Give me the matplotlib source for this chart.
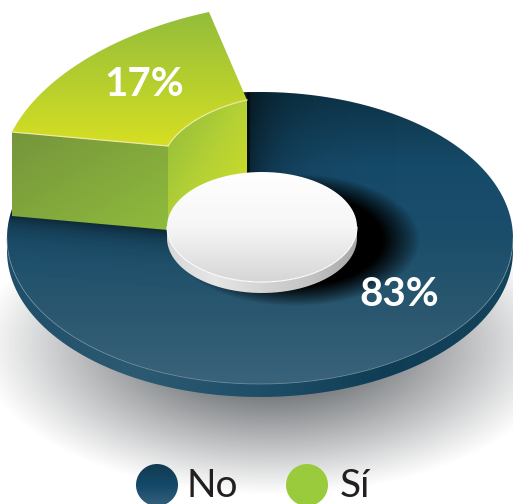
import numpy as np
import matplotlib
matplotlib.use("Agg")
import matplotlib.pyplot as plt
from matplotlib.path import Path
from matplotlib.patches import PathPatch
from matplotlib.colors import LinearSegmentedColormap

labels = ["No", "Sí"]
values = [83, 17]
legend_colors = ["#15496a", "#9acb3c"]
text_color = "#231f20"

W, H = 513, 504
fig = plt.figure(figsize=(W / 100, H / 100), dpi=100)
ax = fig.add_axes([0, 0, 1, 1])
ax.set_xlim(0, W)
ax.set_ylim(H, 0)
ax.set_autoscale_on(False)
ax.axis("off")

Y, X = np.mgrid[0:H, 0:W] + 0.5


def cmap(*cols):
    return LinearSegmentedColormap.from_list("g", list(cols))


def fill(pts, cols, direction=(0, 1), z=1):
    # polygon filled with a linear gradient along direction
    pts = np.asarray(pts)
    path = Path(np.vstack([pts, pts[:1]]))
    x0, y0 = pts.min(axis=0)
    x1, y1 = pts.max(axis=0)
    yy, xx = np.mgrid[y0:y1:200j, x0:x1:200j]
    g = (xx - x0) / max(x1 - x0, 1) * direction[0] + (yy - y0) / max(y1 - y0, 1) * direction[1]
    g = (g - g.min()) / (g.max() - g.min())
    im = ax.imshow(g, extent=(x0, x1, y1, y0), cmap=cmap(*cols), aspect="auto", zorder=z,
                   interpolation="bilinear", origin="upper")
    clip = PathPatch(path, transform=ax.transData, fc="none", ec="none")
    ax.add_patch(clip)
    im.set_clip_path(clip)
    return im


def soft(alpha, z, color=(0, 0, 0), clip_pts=None):
    # full-canvas transparent layer, for the soft shadows
    rgba = np.zeros((H, W, 4))
    rgba[..., 0], rgba[..., 1], rgba[..., 2] = color
    rgba[..., 3] = np.clip(alpha, 0, 1)
    im = ax.imshow(rgba, extent=(0, W, H, 0), aspect="auto", zorder=z, interpolation="bilinear")
    if clip_pts is not None:
        clip = PathPatch(Path(np.vstack([clip_pts, clip_pts[:1]])), transform=ax.transData, fc="none", ec="none")
        ax.add_patch(clip)
        im.set_clip_path(clip)


def ellipse_pts(cx, cy, rx, ry, start=0.0, sweep=360.0, n=300):
    # angles in degrees, clockwise from the top
    t = np.radians(start + np.linspace(0, sweep, n))
    return np.column_stack([cx + rx * np.sin(t), cy - ry * np.cos(t)])


def sheared_arc(center, v1, v2, span, n=120):
    # arc of the given span, stretched so its ends land on center+v1 and center+v2
    v1, v2 = np.asarray(v1, float), np.asarray(v2, float)
    b = (v2 - np.cos(span) * v1) / np.sin(span)
    t = np.linspace(0, span, n)[:, None]
    return np.asarray(center) + np.cos(t) * v1 + np.sin(t) * b


no_sweep = 360 * values[0] / sum(values)
si_span = np.radians(360 * values[1] / sum(values))

# ground shadow
dist = np.sqrt(((X - 272) / 295) ** 2 + ((Y - 345) / 150) ** 2)
soft(0.68 * np.clip((1 - dist) / 0.68, 0, 1) ** 1.05, 0.5, color=(0.2, 0.22, 0.24))

# dark ring, rim first then top face
cx, cy, rx, ry, depth = 260, 238, 253, 146, 13
lower = ellipse_pts(cx, cy, rx, ry, 90, 180)
rim = np.vstack([lower + [0, depth], lower[::-1]])
fill(rim, ["#1f4e68", "#2d5a73", "#1f4e68", "#0f3d55", "#14445c"], direction=(1, 0), z=1)
start = -43 + (360 - no_sweep) / 2
outer = ellipse_pts(cx, cy, rx, ry, start, no_sweep)
ring = np.vstack([[[cx, cy]], outer])
fill(ring, ["#0d3347", "#164a69", "#1b4e6b", "#2a576f", "#39637a"], direction=(0, 1), z=2)
ax.plot(lower[:, 0], lower[:, 1], color="#7d98a6", lw=0.6, alpha=0.7, zorder=3)

# shadows falling on the ring
d = np.sqrt(((X - 295) / 125) ** 2 + ((Y - 240) / 66) ** 2)
soft(np.clip((1 - d) / 0.3, 0, 1) ** 0.9, 3, clip_pts=ring)
soft(0.55 * np.exp(-np.clip(X - 247, 0, None) / 30) * (Y < 230) * (X >= 247), 3, clip_pts=ring)
edge = 215 + (X - 12) * 15 / 156
soft(0.5 * np.exp(-np.clip(Y - edge, 0, None) / 12) * (X < 250), 3, clip_pts=ring)

# Sí slice pulled out of the ring
apex = np.array([265, 150])
lift = 84
top_outer = sheared_arc(apex, [-56, -138], [-253, -18], si_span)
top_inner = sheared_arc(apex, [-18, -50], [-97, -4], si_span)
wall_a, wall_b = top_inner[-1], top_outer[-1]

fill([wall_b, wall_a, wall_a + [0, lift], wall_b + [0, lift]], ["#76953c", "#8fbb3c"], direction=(1, 1), z=4)
fill(np.vstack([top_inner, top_inner[::-1] + [0, lift]]), ["#8fbb3c", "#b5d135", "#d6df22"], direction=(1, 1), z=4)
fill(np.vstack([top_outer, top_inner[::-1]]), ["#93bd3b", "#d6df22"], direction=(0, 1), z=5)
ax.plot(top_inner[:, 0], top_inner[:, 1], color="#eee9a0", lw=0.9, zorder=6)
ax.plot([wall_a[0], wall_b[0]], [wall_a[1], wall_b[1]], color="#eee9a0", lw=0.9, zorder=6)

# white cap in the middle
hx, hy, hrx, hry, hdepth = 262, 227, 95, 55, 11
cap_lower = ellipse_pts(hx, hy, hrx, hry, 90, 180)
fill(np.vstack([cap_lower + [0, hdepth], cap_lower[::-1]]),
     ["#a8a8a8", "#c4c4c4", "#d4d4d4", "#e6e6e6", "#d8d8d8"], direction=(-1, 0), z=7)
fill(ellipse_pts(hx, hy, hrx, hry), ["#ffffff", "#f6f6f6", "#d6d6d6"], direction=(0, 1), z=8)
ax.plot(cap_lower[:, 0], cap_lower[:, 1], color="white", lw=0.8, zorder=9)

# value labels
ax.text(144, 84, f"{values[1]}%", color="white", fontsize=29, family="Lato", weight="bold",
        ha="center", va="center", zorder=10)
ax.text(399, 294, f"{values[0]}%", color="white", fontsize=29, family="Lato", weight="bold",
        ha="center", va="center", zorder=10)

# legend
dot_x = [157, 307]
text_x = [186, 340]
ramp = [["#123a50", "#14496a", "#36607a"], [legend_colors[1], legend_colors[1]]]
for i, name in enumerate(labels):
    fill(ellipse_pts(dot_x[i], 485, 21, 21), ramp[i], direction=(0, 1), z=10)
    ax.text(text_x[i], 486, name, color=text_color, fontsize=28, family="Lato", weight="normal",
            ha="left", va="center", zorder=10)

fig.savefig("out.png", dpi=100)
